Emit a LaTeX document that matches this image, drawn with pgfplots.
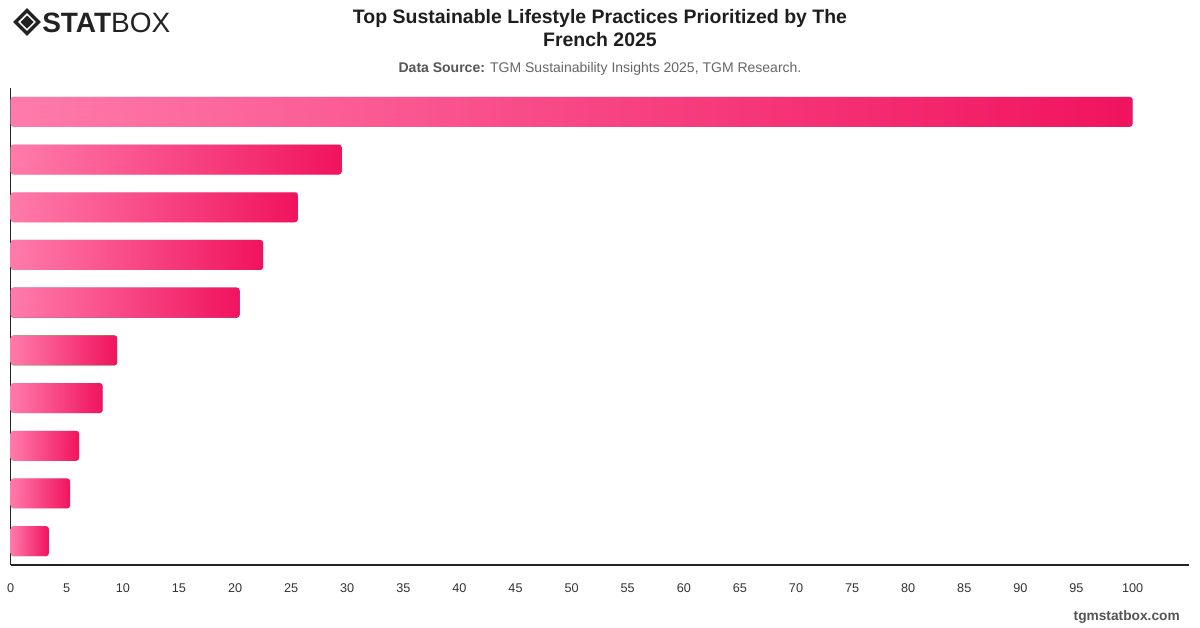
\documentclass[border=0pt]{standalone}
\usepackage{pgfplots}
\pgfplotsset{compat=1.18}
\usepackage{fontspec}
\setmainfont{Liberation Sans}

\definecolor{barl}{HTML}{FF7BAA}
\definecolor{barr}{HTML}{F0135E}
\definecolor{axisc}{HTML}{222222}
\definecolor{tickc}{HTML}{333333}
\definecolor{titlec}{HTML}{1E1E1E}
\definecolor{subb}{HTML}{555555}
\definecolor{subr}{HTML}{666666}
\definecolor{logoc}{HTML}{222222}

\begin{document}
\begin{tikzpicture}
% page frame: 1200 x 628 px at 0.75pt per px, origin top left
\path[use as bounding box] (0,0) rectangle (900pt,-471pt);

% logo
\begin{scope}[x=0.75pt,y=-0.75pt]
  \draw[logoc, line width=2.4pt, line join=miter]
    (27,10.5) -- (38.5,22) -- (27,33.5) -- (15.5,22) -- cycle;
  \fill[logoc] (27,15.5) -- (33.5,22) -- (27,28.5) -- (20.5,22) -- cycle;
\end{scope}
\node[anchor=base west, inner sep=0pt, text=logoc,
      font=\fontsize{21}{24}\selectfont] at (31.5pt,-24.5pt)
  {\textbf{STAT}BOX};

% titles
\node[anchor=base, inner sep=0pt, text=titlec,
      font=\fontsize{14.6}{17}\selectfont\bfseries] at (450pt,-17.6pt)
  {Top Sustainable Lifestyle Practices Prioritized by The};
\node[anchor=base, inner sep=0pt, text=titlec,
      font=\fontsize{14.6}{17}\selectfont\bfseries] at (450pt,-35pt)
  {French 2025};
\node[anchor=base, inner sep=0pt, font=\fontsize{10.5}{12}\selectfont]
  at (450pt,-54pt)
  {\textcolor{subb}{\bfseries Data Source:} \textcolor{subr}{TGM Sustainability Insights 2025, TGM Research.}};

% footer
\node[anchor=base east, inner sep=0pt, text=subb,
      font=\fontsize{10.3}{12}\selectfont\bfseries] at (885pt,-465.5pt)
  {tgmstatbox.com};

\begin{axis}[
  at={(8pt,-423.75pt)}, anchor=south west,
  scale only axis, width=883.5pt, height=357.75pt,
  xbar, bar width=22.5pt, bar shift=0pt,
  xmin=0, xmax=105, ymin=-0.5, ymax=9.5, y dir=reverse,
  axis x line*=bottom, axis y line*=left,
  axis line style={-, draw=axisc, line width=1.1pt},
  xtick={0,5,...,100}, ytick=\empty,
  major tick length=0pt,
  xticklabel style={font=\fontsize{9.5}{11}\selectfont, text=tickc, yshift=-10.5pt},
  /pgf/number format/assume math mode=true,
  /pgf/number format/1000 sep={},
  clip=false,
  % each bar is its own plot so the gradient runs along that bar only
  every axis plot/.append style={draw=none, left color=barl, right color=barr,
    rounded corners=2.2pt},
]
\addplot coordinates {(100,0)};
\addplot coordinates {(29.5,1)};
\addplot coordinates {(25.6,2)};
\addplot coordinates {(22.5,3)};
\addplot coordinates {(20.4,4)};
\addplot coordinates {(9.5,5)};
\addplot coordinates {(8.2,6)};
\addplot coordinates {(6.1,7)};
\addplot coordinates {(5.3,8)};
\addplot coordinates {(3.4,9)};
\end{axis}
\end{tikzpicture}
\end{document}
